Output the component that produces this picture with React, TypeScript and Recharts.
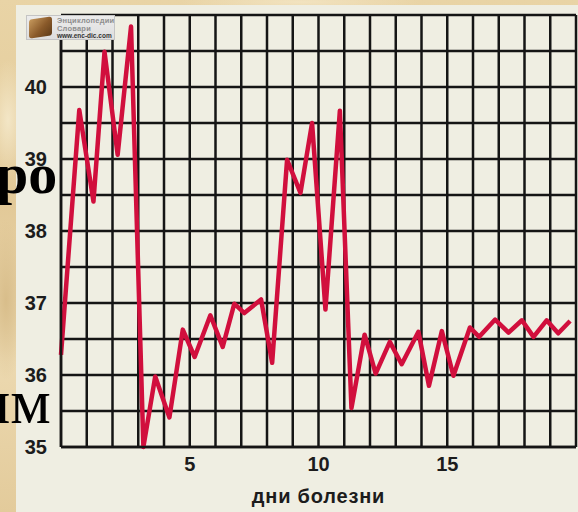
import React from 'react';
import { LineChart, Line, XAxis, YAxis, CartesianGrid } from 'recharts';

const days = [0, 0.71, 1.26, 1.69, 2.2, 2.72, 3.2, 3.66, 4.21, 4.73, 5.19, 5.8, 6.28, 6.73, 7.12, 7.77, 8.2, 8.78, 9.3, 9.75, 10.27, 10.83, 11.28, 11.79, 12.22, 12.77, 13.23, 13.88, 14.29, 14.79, 15.24, 15.88, 16.24, 16.86, 17.38, 17.9, 18.35, 18.86, 19.31, 19.77];
const temps = [36.28, 39.68, 38.41, 40.49, 39.06, 40.84, 35.0, 35.98, 35.41, 36.63, 36.25, 36.83, 36.39, 36.99, 36.86, 37.05, 36.17, 38.99, 38.53, 39.5, 36.91, 39.67, 35.54, 36.56, 36.02, 36.46, 36.15, 36.6, 35.85, 36.61, 35.99, 36.66, 36.53, 36.77, 36.59, 36.76, 36.53, 36.76, 36.58, 36.75];
const xTicks = [0, 1, 2, 3, 4, 5, 6, 7, 8, 9, 10, 11, 12, 13, 14, 15, 16, 17, 18, 19, 20];
const xLabels = [5, 10, 15];
const yTicks = [35, 35.5, 36, 36.5, 37, 37.5, 38, 38.5, 39, 39.5, 40, 40.5, 41];
const yLabels = [35, 36, 37, 38, 39, 40];
const xTitle = 'дни  болезни';

const data = days.map((d, i) => ({ day: d, temp: temps[i] }));

const tickStyle = {
  fill: '#1c1c1c',
  fontSize: 20,
  fontWeight: 700,
  fontFamily: '"Liberation Sans", Arial, sans-serif',
};

const parchment =
  'radial-gradient(ellipse 20px 60px at 8px 120px, #f3e6c6 0%, rgba(243,230,198,0) 100%),' +
  'radial-gradient(ellipse 20px 80px at 6px 300px, #d8bd8a 0%, rgba(216,189,138,0) 100%),' +
  'radial-gradient(ellipse 120px 10px at 300px 2px, #f2e3c0 0%, rgba(242,227,192,0) 100%),' +
  'linear-gradient(180deg, #e9d4a6 0%, #e2c998 40%, #ecd9b0 70%, #e3cb9b 100%)';

export default function App() {
  return (
    <div style={{ position: 'fixed', left: 0, top: 0, width: 578, height: 512, background: parchment, overflow: 'hidden' }}>
      <div style={{ position: 'absolute', left: 16, top: 5, width: 562, height: 507, background: '#efeee2' }} />
      <div style={{ position: 'absolute', left: 0, top: 0 }}>
        <LineChart width={578} height={512} data={data} margin={{ top: 15, right: 2, bottom: 5, left: 16 }}>
          <CartesianGrid stroke="#151515" strokeWidth={2.5} />
          <XAxis
            type="number"
            dataKey="day"
            domain={[0, 20]}
            ticks={xTicks}
            interval={0}
            tickFormatter={(v: number) => (xLabels.includes(v) ? String(v) : '')}
            tick={tickStyle}
            tickLine={false}
            tickSize={0}
            tickMargin={10}
            axisLine={{ stroke: '#151515', strokeWidth: 2.5 }}
            height={60}
            label={{
              value: xTitle,
              position: 'insideBottom',
              offset: 4,
              style: { ...tickStyle, fontSize: 20, letterSpacing: 0.8, whiteSpace: 'pre' },
            }}
          />
          <YAxis
            type="number"
            domain={[35, 41]}
            ticks={yTicks}
            interval={0}
            tickFormatter={(v: number) => (yLabels.includes(v) ? String(v) : '')}
            tick={tickStyle}
            tickLine={false}
            tickSize={0}
            tickMargin={14}
            axisLine={{ stroke: '#151515', strokeWidth: 2.5 }}
            width={45}
          />
          <Line
            type="linear"
            dataKey="temp"
            stroke="#d10f3d"
            strokeWidth={4.5}
            strokeLinejoin="round"
            dot={false}
            isAnimationActive={false}
          />
        </LineChart>
      </div>
      <div
        style={{
          position: 'absolute', left: 26, top: 15, width: 89, height: 25,
          background: 'linear-gradient(180deg, #ececec, #dedede)', border: '1px solid #c4c4c4',
          boxSizing: 'border-box',
        }}
      >
        <div
          style={{
            position: 'absolute', left: 2, top: 2, width: 23, height: 19,
            background: 'linear-gradient(135deg, #c79a5e 0%, #8a5a2a 55%, #5e3b18 100%)',
            borderRadius: 3, transform: 'skewY(-8deg)',
          }}
        />
        <div style={{ position: 'absolute', left: 30, top: 1, fontFamily: '"Liberation Sans", Arial, sans-serif', fontWeight: 700, fontSize: 7.5, lineHeight: '7.5px', color: '#8e8e8e', letterSpacing: 0.2 }}>
          Энциклопедии<br />Словари
        </div>
        <div style={{ position: 'absolute', left: 30, top: 16, fontFamily: '"Liberation Sans", Arial, sans-serif', fontWeight: 700, fontSize: 6.5, lineHeight: '7px', color: '#333' }}>
          www.enc-dic.com
        </div>
      </div>
      <svg width={578} height={512} style={{ position: 'absolute', left: 0, top: 0, pointerEvents: 'none' }}>
        <text x={-4} y={193} fontFamily='"Liberation Serif", "Times New Roman", serif' fontWeight={700} fontSize={58} fill="#000">ро</text>
        <text x={-24} y={423} fontFamily='"Liberation Serif", "Times New Roman", serif' fontSize={64} fill="#000">им</text>
      </svg>
    </div>
  );
}
